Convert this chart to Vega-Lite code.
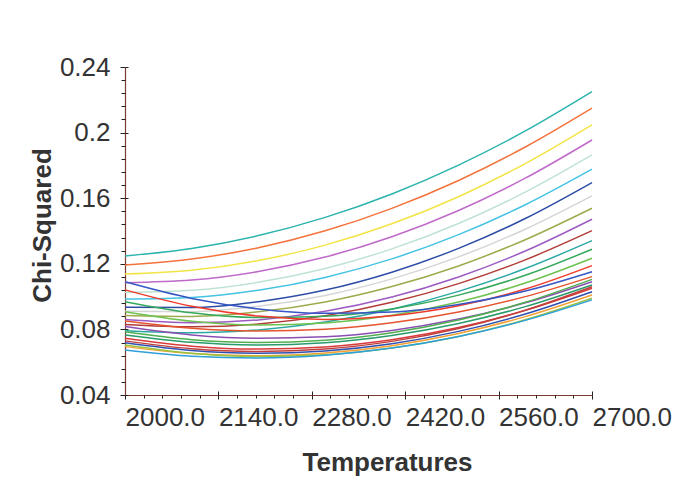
{
  "$schema": "https://vega.github.io/schema/vega-lite/v6.json",
  "width": 467,
  "height": 328,
  "autosize": "none",
  "padding": {"left": 125, "top": 67, "right": 91, "bottom": 101},
  "background": "white",
  "config": {"view": {"stroke": null}, "font": "Liberation Sans"},
  "data": {"values": [
    {"s":"c01","T":2000,"v":0.1248},{"s":"c01","T":2100,"v":0.1294},{"s":"c01","T":2200,"v":0.1372},{"s":"c01","T":2300,"v":0.1483},{"s":"c01","T":2400,"v":0.1626},{"s":"c01","T":2500,"v":0.1802},{"s":"c01","T":2600,"v":0.2010},{"s":"c01","T":2700,"v":0.2250},
    {"s":"c02","T":2000,"v":0.1193},{"s":"c02","T":2100,"v":0.1229},{"s":"c02","T":2200,"v":0.1298},{"s":"c02","T":2300,"v":0.1401},{"s":"c02","T":2400,"v":0.1538},{"s":"c02","T":2500,"v":0.1708},{"s":"c02","T":2600,"v":0.1912},{"s":"c02","T":2700,"v":0.2149},
    {"s":"c03","T":2000,"v":0.1138},{"s":"c03","T":2100,"v":0.1161},{"s":"c03","T":2200,"v":0.1220},{"s":"c03","T":2300,"v":0.1314},{"s":"c03","T":2400,"v":0.1444},{"s":"c03","T":2500,"v":0.1609},{"s":"c03","T":2600,"v":0.1811},{"s":"c03","T":2700,"v":0.2047},
    {"s":"c04","T":2000,"v":0.1085},{"s":"c04","T":2100,"v":0.1101},{"s":"c04","T":2200,"v":0.1153},{"s":"c04","T":2300,"v":0.1241},{"s":"c04","T":2400,"v":0.1365},{"s":"c04","T":2500,"v":0.1525},{"s":"c04","T":2600,"v":0.1722},{"s":"c04","T":2700,"v":0.1955},
    {"s":"c05","T":2000,"v":0.1025},{"s":"c05","T":2100,"v":0.1038},{"s":"c05","T":2200,"v":0.1087},{"s":"c05","T":2300,"v":0.1171},{"s":"c05","T":2400,"v":0.1291},{"s":"c05","T":2500,"v":0.1446},{"s":"c05","T":2600,"v":0.1637},{"s":"c05","T":2700,"v":0.1864},
    {"s":"c06","T":2000,"v":0.0985},{"s":"c06","T":2100,"v":0.0995},{"s":"c06","T":2200,"v":0.1039},{"s":"c06","T":2300,"v":0.1117},{"s":"c06","T":2400,"v":0.1230},{"s":"c06","T":2500,"v":0.1378},{"s":"c06","T":2600,"v":0.1560},{"s":"c06","T":2700,"v":0.1777},
    {"s":"c07","T":2000,"v":0.0935},{"s":"c07","T":2100,"v":0.0933},{"s":"c07","T":2200,"v":0.0969},{"s":"c07","T":2300,"v":0.1040},{"s":"c07","T":2400,"v":0.1149},{"s":"c07","T":2500,"v":0.1294},{"s":"c07","T":2600,"v":0.1476},{"s":"c07","T":2700,"v":0.1695},
    {"s":"c08","T":2000,"v":0.0910},{"s":"c08","T":2100,"v":0.0908},{"s":"c08","T":2200,"v":0.0941},{"s":"c08","T":2300,"v":0.1007},{"s":"c08","T":2400,"v":0.1108},{"s":"c08","T":2500,"v":0.1242},{"s":"c08","T":2600,"v":0.1411},{"s":"c08","T":2700,"v":0.1614},
    {"s":"c09","T":2000,"v":0.0885},{"s":"c09","T":2100,"v":0.0879},{"s":"c09","T":2200,"v":0.0907},{"s":"c09","T":2300,"v":0.0967},{"s":"c09","T":2400,"v":0.1061},{"s":"c09","T":2500,"v":0.1187},{"s":"c09","T":2600,"v":0.1347},{"s":"c09","T":2700,"v":0.1539},
    {"s":"c10","T":2000,"v":0.0860},{"s":"c10","T":2100,"v":0.0841},{"s":"c10","T":2200,"v":0.0858},{"s":"c10","T":2300,"v":0.0910},{"s":"c10","T":2400,"v":0.0997},{"s":"c10","T":2500,"v":0.1120},{"s":"c10","T":2600,"v":0.1278},{"s":"c10","T":2700,"v":0.1472},
    {"s":"c11","T":2000,"v":0.0830},{"s":"c11","T":2100,"v":0.0816},{"s":"c11","T":2200,"v":0.0833},{"s":"c11","T":2300,"v":0.0883},{"s":"c11","T":2400,"v":0.0965},{"s":"c11","T":2500,"v":0.1079},{"s":"c11","T":2600,"v":0.1224},{"s":"c11","T":2700,"v":0.1402},
    {"s":"c12","T":2000,"v":0.0792},{"s":"c12","T":2100,"v":0.0779},{"s":"c12","T":2200,"v":0.0797},{"s":"c12","T":2300,"v":0.0845},{"s":"c12","T":2400,"v":0.0923},{"s":"c12","T":2500,"v":0.1032},{"s":"c12","T":2600,"v":0.1171},{"s":"c12","T":2700,"v":0.1341},
    {"s":"c13","T":2000,"v":0.0969},{"s":"c13","T":2100,"v":0.0901},{"s":"c13","T":2200,"v":0.0872},{"s":"c13","T":2300,"v":0.0880},{"s":"c13","T":2400,"v":0.0925},{"s":"c13","T":2500,"v":0.1009},{"s":"c13","T":2600,"v":0.1130},{"s":"c13","T":2700,"v":0.1289},
    {"s":"c14","T":2000,"v":0.0908},{"s":"c14","T":2100,"v":0.0850},{"s":"c14","T":2200,"v":0.0827},{"s":"c14","T":2300,"v":0.0839},{"s":"c14","T":2400,"v":0.0886},{"s":"c14","T":2500,"v":0.0967},{"s":"c14","T":2600,"v":0.1083},{"s":"c14","T":2700,"v":0.1234},
    {"s":"c15","T":2000,"v":0.1041},{"s":"c15","T":2100,"v":0.0941},{"s":"c15","T":2200,"v":0.0881},{"s":"c15","T":2300,"v":0.0861},{"s":"c15","T":2400,"v":0.0883},{"s":"c15","T":2500,"v":0.0944},{"s":"c15","T":2600,"v":0.1046},{"s":"c15","T":2700,"v":0.1189},
    {"s":"c16","T":2000,"v":0.1090},{"s":"c16","T":2100,"v":0.0989},{"s":"c16","T":2200,"v":0.0925},{"s":"c16","T":2300,"v":0.0898},{"s":"c16","T":2400,"v":0.0906},{"s":"c16","T":2500,"v":0.0952},{"s":"c16","T":2600,"v":0.1034},{"s":"c16","T":2700,"v":0.1152},
    {"s":"c17","T":2000,"v":0.0851},{"s":"c17","T":2100,"v":0.0807},{"s":"c17","T":2200,"v":0.0790},{"s":"c17","T":2300,"v":0.0801},{"s":"c17","T":2400,"v":0.0840},{"s":"c17","T":2500,"v":0.0906},{"s":"c17","T":2600,"v":0.1000},{"s":"c17","T":2700,"v":0.1122},
    {"s":"c18","T":2000,"v":0.0817},{"s":"c18","T":2100,"v":0.0766},{"s":"c18","T":2200,"v":0.0746},{"s":"c18","T":2300,"v":0.0755},{"s":"c18","T":2400,"v":0.0794},{"s":"c18","T":2500,"v":0.0863},{"s":"c18","T":2600,"v":0.0962},{"s":"c18","T":2700,"v":0.1091},
    {"s":"c19","T":2000,"v":0.0766},{"s":"c19","T":2100,"v":0.0721},{"s":"c19","T":2200,"v":0.0705},{"s":"c19","T":2300,"v":0.0719},{"s":"c19","T":2400,"v":0.0763},{"s":"c19","T":2500,"v":0.0836},{"s":"c19","T":2600,"v":0.0939},{"s":"c19","T":2700,"v":0.1071},
    {"s":"c20","T":2000,"v":0.0746},{"s":"c20","T":2100,"v":0.0698},{"s":"c20","T":2200,"v":0.0680},{"s":"c20","T":2300,"v":0.0693},{"s":"c20","T":2400,"v":0.0737},{"s":"c20","T":2500,"v":0.0811},{"s":"c20","T":2600,"v":0.0916},{"s":"c20","T":2700,"v":0.1051},
    {"s":"c21","T":2000,"v":0.0719},{"s":"c21","T":2100,"v":0.0672},{"s":"c21","T":2200,"v":0.0655},{"s":"c21","T":2300,"v":0.0669},{"s":"c21","T":2400,"v":0.0713},{"s":"c21","T":2500,"v":0.0788},{"s":"c21","T":2600,"v":0.0894},{"s":"c21","T":2700,"v":0.1030},
    {"s":"c22","T":2000,"v":0.0695},{"s":"c22","T":2100,"v":0.0653},{"s":"c22","T":2200,"v":0.0640},{"s":"c22","T":2300,"v":0.0656},{"s":"c22","T":2400,"v":0.0701},{"s":"c22","T":2500,"v":0.0775},{"s":"c22","T":2600,"v":0.0878},{"s":"c22","T":2700,"v":0.1010},
    {"s":"c23","T":2000,"v":0.0705},{"s":"c23","T":2100,"v":0.0655},{"s":"c23","T":2200,"v":0.0635},{"s":"c23","T":2300,"v":0.0646},{"s":"c23","T":2400,"v":0.0687},{"s":"c23","T":2500,"v":0.0757},{"s":"c23","T":2600,"v":0.0859},{"s":"c23","T":2700,"v":0.0990},
    {"s":"c24","T":2000,"v":0.0675},{"s":"c24","T":2100,"v":0.0637},{"s":"c24","T":2200,"v":0.0626},{"s":"c24","T":2300,"v":0.0643},{"s":"c24","T":2400,"v":0.0686},{"s":"c24","T":2500,"v":0.0757},{"s":"c24","T":2600,"v":0.0855},{"s":"c24","T":2700,"v":0.0980},
    {"s":"c25","T":2000,"v":0.0785},{"s":"c25","T":2100,"v":0.0737},{"s":"c25","T":2200,"v":0.0720},{"s":"c25","T":2300,"v":0.0734},{"s":"c25","T":2400,"v":0.0780},{"s":"c25","T":2500,"v":0.0857},{"s":"c25","T":2600,"v":0.0965},{"s":"c25","T":2700,"v":0.1105},
    {"s":"c26","T":2000,"v":0.0730},{"s":"c26","T":2100,"v":0.0682},{"s":"c26","T":2200,"v":0.0665},{"s":"c26","T":2300,"v":0.0680},{"s":"c26","T":2400,"v":0.0727},{"s":"c26","T":2500,"v":0.0806},{"s":"c26","T":2600,"v":0.0917},{"s":"c26","T":2700,"v":0.1060}
  ]},
  "layer": [
    {
      "mark": {"type": "line", "interpolate": "monotone", "strokeWidth": 1.5},
      "encoding": {
        "x": {
          "field": "T", "type": "quantitative",
          "scale": {"domain": [2000, 2700], "nice": false, "zero": false},
          "axis": {
            "orient": "bottom", "values": [2000, 2140, 2280, 2420, 2560, 2700], "format": ".1f",
            "grid": false, "labelFlush": false, "labelOverlap": false,
            "labelFontSize": 26, "labelColor": "#333333", "labelAlign": "left", "labelDx": -8,
            "labelBaseline": "top", "labelPadding": 5,
            "tickSize": 4, "tickColor": "#222222", "domainColor": "#7a3b33", "domainWidth": 1.2,
            "title": "Temperatures", "titleFontSize": 26, "titleFontWeight": "bold", "titleColor": "#333333",
            "titleX": 262, "titleY": 75, "titleBaseline": "alphabetic", "titleAlign": "center"
          }
        },
        "y": {
          "field": "v", "type": "quantitative",
          "scale": {"domain": [0.04, 0.24], "nice": false, "zero": false},
          "axis": {
            "orient": "left", "values": [0.04, 0.08, 0.12, 0.16, 0.2, 0.24], "format": "~g",
            "grid": false, "labelFlush": false, "labelOverlap": false,
            "labelFontSize": 26, "labelColor": "#333333", "labelPadding": 10, "labelDy": -5,
            "tickSize": 5, "tickColor": "#222222", "domainColor": "#7a3b33", "domainWidth": 1.2,
            "title": "Chi-Squared", "titleFontSize": 26, "titleFontWeight": "bold", "titleColor": "#333333",
            "titleX": -75, "titleY": 158, "titleBaseline": "alphabetic", "titleAlign": "center", "titleAngle": -90
          }
        },
        "color": {
          "field": "s", "type": "nominal", "legend": null,
          "scale": {
            "domain": ["c01","c02","c03","c04","c05","c06","c07","c08","c09","c10","c11","c12","c13","c14","c15","c16","c17","c18","c19","c20","c21","c22","c23","c24","c25","c26"],
            "range": ["#2bb3ad","#f4733d","#f2e444","#bf6ac9","#bfe3d3","#45c3e3","#2d4ca6","#d5d5d5","#9dab4c","#9d5bc2","#b23c37","#2ba8a3","#35a85c","#6ec24e","#ef3b2c","#3556c4","#e5552f","#8b4fb3","#2a9b6c","#d83b3b","#2f50b2","#f2a033","#98c443","#2f9fd8","#4faf4f","#c0403e"]
          }
        }
      }
    },
    {
      "mark": {"type": "line", "opacity": 0},
      "encoding": {
        "x": {"field": "T", "type": "quantitative", "axis": {
          "orient": "bottom", "title": null, "labels": false, "domain": false, "grid": false,
          "values": [2000,2028,2056,2084,2112,2140,2168,2196,2224,2252,2280,2308,2336,2364,2392,2420,2448,2476,2504,2532,2560,2588,2616,2644,2672,2700],
          "tickSize": 3, "tickColor": "#222222"}},
        "y": {"field": "v", "type": "quantitative", "axis": {
          "orient": "left", "title": null, "labels": false, "domain": false, "grid": false,
          "values": [0.04,0.048,0.056,0.064,0.072,0.08,0.088,0.096,0.104,0.112,0.12,0.128,0.136,0.144,0.152,0.16,0.168,0.176,0.184,0.192,0.2,0.208,0.216,0.224,0.232,0.24],
          "tickSize": 4, "tickColor": "#222222"}},
        "detail": {"field": "s"}
      }
    },
    {
      "mark": {"type": "line", "opacity": 0},
      "encoding": {
        "x": {"field": "T", "type": "quantitative", "axis": {
          "orient": "bottom", "title": null, "labels": false, "domain": false, "grid": false,
          "values": [2000, 2140, 2280, 2420, 2560, 2700], "tickSize": -4, "tickColor": "#222222"}},
        "y": {"field": "v", "type": "quantitative", "axis": {
          "orient": "left", "title": null, "labels": false, "domain": false, "grid": false,
          "values": [0.04, 0.08, 0.12, 0.16, 0.2, 0.24], "tickSize": -3, "tickColor": "#222222"}},
        "detail": {"field": "s"}
      }
    }
  ],
  "resolve": {"axis": {"x": "independent", "y": "independent"}}
}
